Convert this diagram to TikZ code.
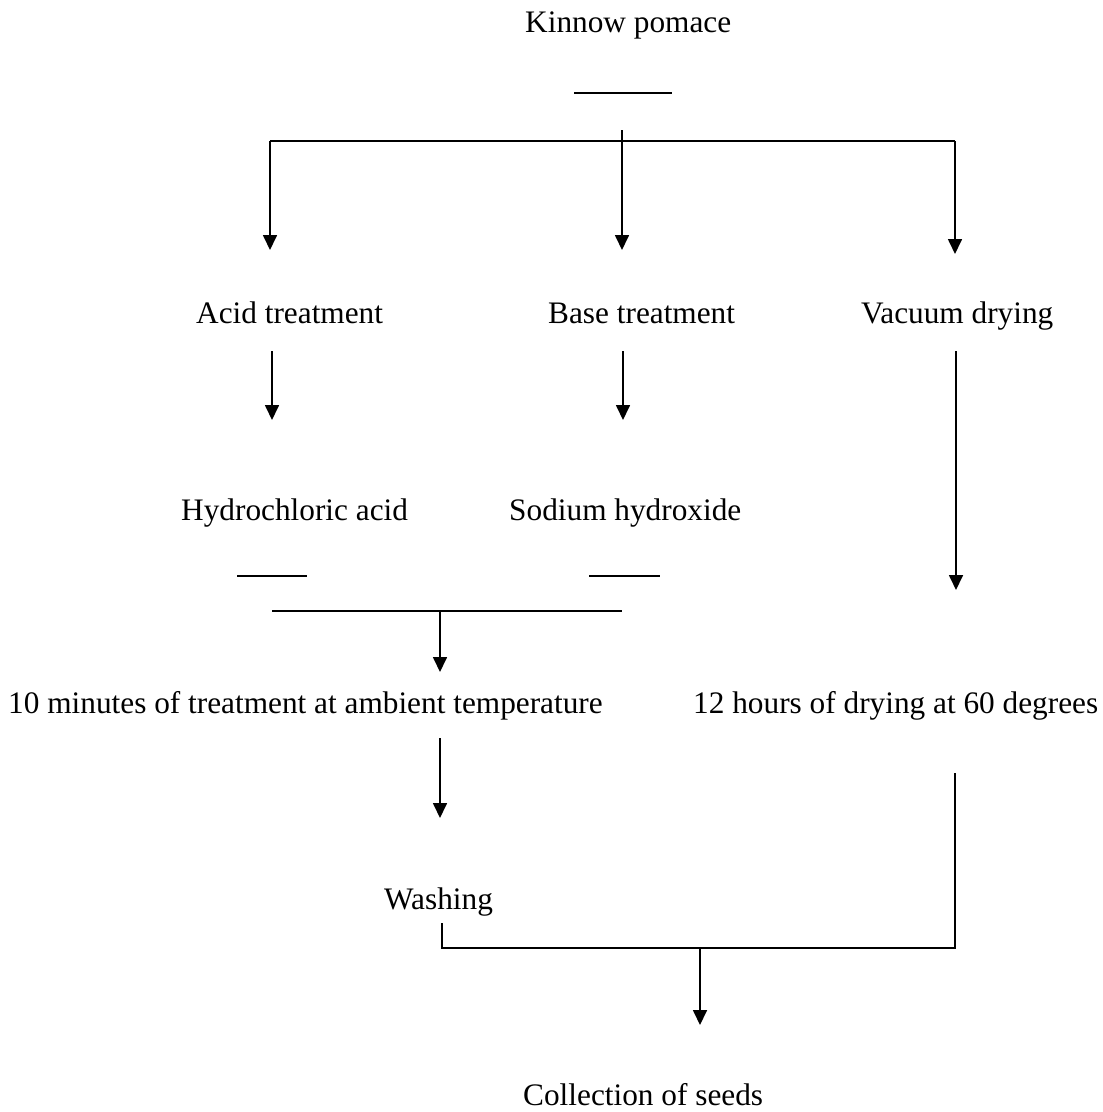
\documentclass[tikz,border=0pt]{standalone}
\usepackage{fontspec}
\setmainfont{Liberation Serif}
\usetikzlibrary{arrows.meta}
\begin{document}
\begin{tikzpicture}[x=1pt,y=-1pt,
  lbl/.style={inner sep=0pt,anchor=base west,font=\fontsize{31.3}{36}\selectfont},
  ln/.style={line width=1.7pt},
  arr/.style={line width=1.7pt,-{Triangle[width=14pt,length=15pt]}}]
\useasboundingbox (0,0) rectangle (1103,1112);
% texts
\node[lbl] (kp) at (525,32) {Kinnow pomace};
\node[lbl] (acid) at (196,323) {Acid treatment};
\node[lbl] (base) at (548,323) {Base treatment};
\node[lbl] (vac) at (861,323) {Vacuum drying};
\node[lbl] (hcl) at (181,520) {Hydrochloric acid};
\node[lbl] (naoh) at (509,520) {Sodium hydroxide};
\node[lbl] (ten) at (8,713) {10 minutes of treatment at ambient temperature};
\node[lbl] (twelve) at (693,713) {12 hours of drying at 60 degrees};
\node[lbl] (wash) at (384,909) {Washing};
\node[lbl] (coll) at (523,1105) {Collection of seeds};
% coordinates
\coordinate (s1a) at (574,93); \coordinate (s1b) at (672,93);
\coordinate (m0) at (622,130); \coordinate (m1) at (622,250);
\coordinate (hL) at (270,141); \coordinate (hR) at (955,141);
\coordinate (aL) at (270,250); \coordinate (aR) at (955,254);
\coordinate (a1) at (272,351); \coordinate (a2) at (272,420);
\coordinate (b1) at (623,351); \coordinate (b2) at (623,420);
\coordinate (v1) at (956,351); \coordinate (v2) at (956,590);
\coordinate (s2a) at (237,576); \coordinate (s2b) at (307,576);
\coordinate (s3a) at (589,576); \coordinate (s3b) at (660,576);
\coordinate (jL) at (272,611); \coordinate (jR) at (622,611);
\coordinate (j1) at (440,611); \coordinate (j2) at (440,672);
\coordinate (t1) at (440,738); \coordinate (t2) at (440,818);
\coordinate (r1) at (955,773); \coordinate (r2) at (955,948);
\coordinate (w1) at (442,923); \coordinate (w2) at (442,948);
\coordinate (c1) at (700,948); \coordinate (c2) at (700,1025);
% connectors
\draw[ln] (s1a) -- (s1b);
\draw[arr] (m0) -- (m1);
\draw[ln] (hL) -- (hR);
\draw[arr] (hL) -- (aL);
\draw[arr] (hR) -- (aR);
\draw[arr] (a1) -- (a2);
\draw[arr] (b1) -- (b2);
\draw[arr] (v1) -- (v2);
\draw[ln] (s2a) -- (s2b);
\draw[ln] (s3a) -- (s3b);
\draw[ln] (jL) -- (jR);
\draw[arr] (j1) -- (j2);
\draw[arr] (t1) -- (t2);
\draw[ln] (w1) -- (w2) -- (r2) -- (r1);
\draw[arr] (c1) -- (c2);
\end{tikzpicture}
\end{document}
